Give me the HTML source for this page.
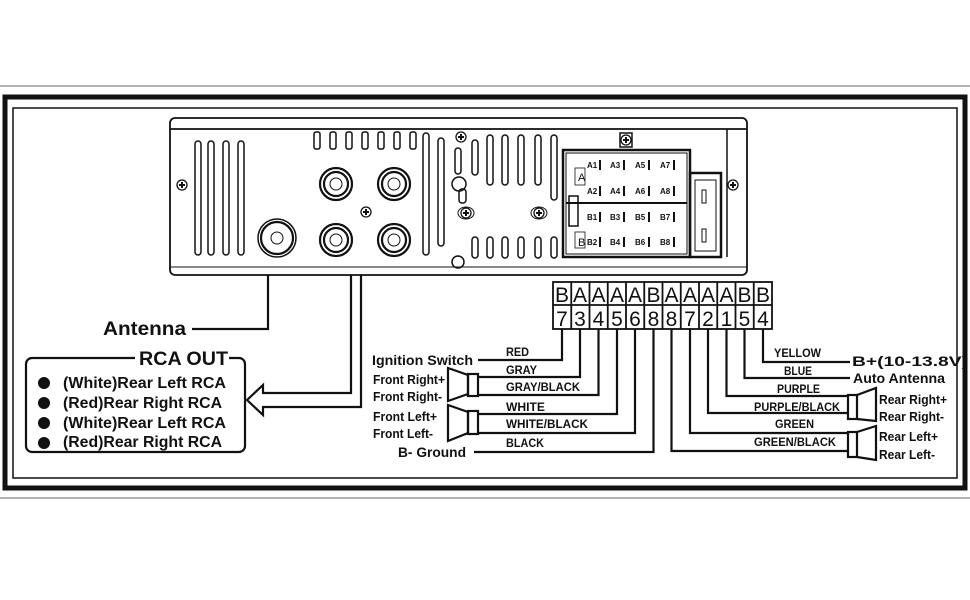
<!DOCTYPE html>
<html><head><meta charset="utf-8"><style>
html,body{margin:0;padding:0;background:#fff}
svg{display:block}
text{font-family:"Liberation Sans",sans-serif;fill:#111}
</style></head><body>
<svg width="970" height="600" viewBox="0 0 970 600" xmlns="http://www.w3.org/2000/svg">
<rect width="970" height="600" fill="#fff"/>
<line x1="0" y1="86" x2="970" y2="86" stroke="#999" stroke-width="1.5"/>
<line x1="0" y1="498" x2="970" y2="498" stroke="#999" stroke-width="1.5"/>
<rect x="5" y="97" width="960" height="391" fill="none" stroke="#111" stroke-width="5"/>
<rect x="13" y="108" width="944" height="370" fill="none" stroke="#111" stroke-width="1.5"/>

<!-- radio -->
<g fill="none" stroke="#111" stroke-width="1.8">
<rect x="170" y="118" width="577" height="157" rx="5"/>
<line x1="170" y1="129" x2="747" y2="129"/>
<line x1="170" y1="267" x2="747" y2="267" stroke-width="1"/>
<g stroke-width="1.5">
<rect x="195" y="141" width="6" height="114" rx="3"/><rect x="208" y="141" width="6" height="114" rx="3"/>
<rect x="223" y="141" width="6" height="114" rx="3"/><rect x="238" y="141" width="6" height="114" rx="3"/>
<rect x="314" y="132" width="6" height="17" rx="2"/><rect x="330" y="132" width="6" height="17" rx="2"/>
<rect x="346" y="132" width="6" height="17" rx="2"/><rect x="362" y="132" width="6" height="17" rx="2"/>
<rect x="378" y="132" width="6" height="17" rx="2"/><rect x="394" y="132" width="6" height="17" rx="2"/>
<rect x="410" y="132" width="6" height="17" rx="2"/>
<rect x="423" y="133" width="6" height="122" rx="3"/><rect x="438" y="138" width="6" height="108" rx="3"/>
<rect x="472" y="140" width="6" height="35" rx="3"/><rect x="487" y="135" width="6" height="50" rx="3"/>
<rect x="502" y="135" width="6" height="50" rx="3"/><rect x="518" y="135" width="6" height="50" rx="3"/>
<rect x="535" y="135" width="6" height="50" rx="3"/><rect x="551" y="135" width="6" height="65" rx="3"/>
<rect x="472" y="237" width="6" height="21" rx="3"/><rect x="487" y="237" width="6" height="21" rx="3"/>
<rect x="502" y="237" width="6" height="21" rx="3"/><rect x="518" y="237" width="6" height="21" rx="3"/>
<rect x="535" y="237" width="6" height="21" rx="3"/><rect x="551" y="237" width="6" height="21" rx="3"/>
<rect x="455" y="148" width="6" height="26" rx="3"/>
<circle cx="459" cy="184" r="7"/>
<rect x="459" y="189" width="7" height="14" rx="3"/>
<circle cx="458" cy="262" r="6"/>
</g>
<g stroke-width="2.2">
<circle cx="336" cy="184" r="16"/><circle cx="336" cy="184" r="12"/>
<circle cx="394" cy="184" r="16"/><circle cx="394" cy="184" r="12"/>
<circle cx="336" cy="240" r="16"/><circle cx="336" cy="240" r="12"/>
<circle cx="394" cy="240" r="16"/><circle cx="394" cy="240" r="12"/>
<circle cx="277" cy="238" r="19" stroke-width="1.5"/><circle cx="277" cy="238" r="16"/>
</g>
<g stroke-width="1">
<circle cx="336" cy="184" r="6"/><circle cx="394" cy="184" r="6"/>
<circle cx="336" cy="240" r="6"/><circle cx="394" cy="240" r="6"/>
<circle cx="277" cy="238" r="6"/>
<ellipse cx="466" cy="213" rx="8" ry="6"/><ellipse cx="539" cy="213" rx="8" ry="6"/>
</g>
<rect x="563" y="150" width="127" height="107" stroke-width="2.5"/>
<rect x="566" y="153" width="121" height="101" stroke-width="1"/>
<line x1="566" y1="203" x2="687" y2="203" stroke-width="2"/>
<rect x="569" y="196" width="9" height="30" stroke-width="1.5"/>
<rect x="575" y="168" width="10" height="17" stroke-width="0.8"/>
<rect x="575" y="232" width="10" height="16" stroke-width="0.8"/>
<rect x="690" y="173" width="31" height="84" stroke-width="2.5"/>
<rect x="695" y="180" width="21" height="71" stroke-width="1"/>
<rect x="702" y="190" width="4" height="13" stroke-width="1"/>
<rect x="702" y="229" width="4" height="13" stroke-width="1"/>
<line x1="727" y1="129" x2="727" y2="257" stroke-width="1.5"/>
<rect x="620" y="133" width="12" height="14" stroke-width="1.5"/>
</g>
<g font-size="8" font-weight="bold">
<text x="578" y="181" font-weight="normal" font-size="11" fill="#888">A</text>
<text x="578" y="246" font-weight="normal" font-size="11" fill="#888">B</text>
<text x="587" y="168">A1</text><text x="610" y="168">A3</text><text x="635" y="168">A5</text><text x="660" y="168">A7</text>
<text x="587" y="194">A2</text><text x="610" y="194">A4</text><text x="635" y="194">A6</text><text x="660" y="194">A8</text>
<text x="587" y="220">B1</text><text x="610" y="220">B3</text><text x="635" y="220">B5</text><text x="660" y="220">B7</text>
<text x="587" y="245">B2</text><text x="610" y="245">B4</text><text x="635" y="245">B6</text><text x="660" y="245">B8</text>
</g>
<g stroke="#111" stroke-width="2">
<line x1="600" y1="160" x2="600" y2="170"/><line x1="624" y1="160" x2="624" y2="170"/><line x1="649" y1="160" x2="649" y2="170"/><line x1="674" y1="160" x2="674" y2="170"/>
<line x1="600" y1="186" x2="600" y2="196"/><line x1="624" y1="186" x2="624" y2="196"/><line x1="649" y1="186" x2="649" y2="196"/><line x1="674" y1="186" x2="674" y2="196"/>
<line x1="600" y1="212" x2="600" y2="222"/><line x1="624" y1="212" x2="624" y2="222"/><line x1="649" y1="212" x2="649" y2="222"/><line x1="674" y1="212" x2="674" y2="222"/>
<line x1="600" y1="237" x2="600" y2="247"/><line x1="624" y1="237" x2="624" y2="247"/><line x1="649" y1="237" x2="649" y2="247"/><line x1="674" y1="237" x2="674" y2="247"/>
</g>
<g fill="none" stroke="#111" stroke-width="1.3">
<circle cx="182" cy="185" r="5"/><circle cx="366" cy="212" r="5"/><circle cx="461" cy="137" r="5"/>
<circle cx="733" cy="185" r="5"/><circle cx="626" cy="140" r="5"/><circle cx="466" cy="213" r="5"/><circle cx="539" cy="213" r="5"/>
</g>
<g stroke="#111" stroke-width="2">
<path d="M179 185h6M182 182v6M363 212h6M366 209v6M458 137h6M461 134v6M730 185h6M733 182v6M623 140h6M626 137v6M463 213h6M466 210v6M536 213h6M539 210v6"/>
</g>

<!-- antenna & rca -->
<g fill="none" stroke="#111" stroke-width="2.2">
<path d="M268 275V329H192"/>
<path d="M351 275V393H263V385L247 400L263 415V407H361V275"/>
<path d="M135 358H32a6 6 0 0 0-6 6v82a6 6 0 0 0 6 6h207a6 6 0 0 0 6-6v-82a6 6 0 0 0-6-6h-10"/>
</g>
<text x="103" y="335" font-size="19" font-weight="bold" textLength="83" lengthAdjust="spacingAndGlyphs">Antenna</text>
<text x="139" y="365" font-size="19" font-weight="bold" textLength="89" lengthAdjust="spacingAndGlyphs">RCA OUT</text>
<g font-size="16" font-weight="bold">
<circle cx="44" cy="383" r="6" fill="#111"/><text x="63" y="388" textLength="163" lengthAdjust="spacingAndGlyphs">(White)Rear Left RCA</text>
<circle cx="44" cy="403" r="6" fill="#111"/><text x="63" y="408" textLength="159" lengthAdjust="spacingAndGlyphs">(Red)Rear Right RCA</text>
<circle cx="44" cy="423" r="6" fill="#111"/><text x="63" y="428" textLength="163" lengthAdjust="spacingAndGlyphs">(White)Rear Left RCA</text>
<circle cx="44" cy="443" r="6" fill="#111"/><text x="63" y="447" textLength="159" lengthAdjust="spacingAndGlyphs">(Red)Rear Right RCA</text>
</g>

<!-- pin table -->
<g fill="none" stroke="#111" stroke-width="1.8">
<rect x="553" y="282" width="219" height="47"/>
<line x1="553" y1="305" x2="772" y2="305"/>
<path d="M571.25 282v47M589.5 282v47M607.75 282v47M626 282v47M644.25 282v47M662.5 282v47M680.75 282v47M699 282v47M717.25 282v47M735.5 282v47M753.75 282v47"/>
</g>
<g font-size="21" text-anchor="middle">
<text x="562" y="302">B</text><text x="580" y="302">A</text><text x="598.5" y="302">A</text><text x="617" y="302">A</text><text x="635" y="302">A</text><text x="653.5" y="302">B</text><text x="671.5" y="302">A</text><text x="690" y="302">A</text><text x="708" y="302">A</text><text x="726.5" y="302">A</text><text x="744.5" y="302">B</text><text x="763" y="302">B</text>
<text x="562" y="326">7</text><text x="580" y="326">3</text><text x="598.5" y="326">4</text><text x="617" y="326">5</text><text x="635" y="326">6</text><text x="653.5" y="326">8</text><text x="671.5" y="326">8</text><text x="690" y="326">7</text><text x="708" y="326">2</text><text x="726.5" y="326">1</text><text x="744.5" y="326">5</text><text x="763" y="326">4</text>
</g>
<g fill="none" stroke="#111" stroke-width="2.2">
<path d="M562 329V360H478"/>
<path d="M580 329V377H478"/>
<path d="M598.5 329V395H478"/>
<path d="M617 329V414H478"/>
<path d="M635 329V433H478"/>
<path d="M653.5 329V452H474"/>
<path d="M671.5 329V451H848"/>
<path d="M690 329V433H848"/>
<path d="M708 329V413H848"/>
<path d="M726.5 329V396H848"/>
<path d="M744.5 329V378H850"/>
<path d="M763 329V362H850"/>
<path d="M448 368L468 375V394L448 401Z"/><rect x="468" y="374" width="10" height="22"/>
<path d="M448 405L468 412V433L448 441Z"/><rect x="468" y="411" width="10" height="23"/>
<rect x="848" y="395" width="9" height="24"/><path d="M857 395L876 388V421L857 419"/>
<rect x="848" y="432" width="9" height="25"/><path d="M857 432L876 426V460L857 457"/>
</g>
<g font-size="12" font-weight="bold">
<text x="506" y="356" textLength="23" lengthAdjust="spacingAndGlyphs">RED</text>
<text x="506" y="374" textLength="31" lengthAdjust="spacingAndGlyphs">GRAY</text>
<text x="506" y="391" textLength="74" lengthAdjust="spacingAndGlyphs">GRAY/BLACK</text>
<text x="506" y="411" textLength="39" lengthAdjust="spacingAndGlyphs">WHITE</text>
<text x="506" y="428" textLength="82" lengthAdjust="spacingAndGlyphs">WHITE/BLACK</text>
<text x="506" y="447" textLength="38" lengthAdjust="spacingAndGlyphs">BLACK</text>
<text x="774" y="357" textLength="47" lengthAdjust="spacingAndGlyphs">YELLOW</text>
<text x="784" y="375" textLength="28" lengthAdjust="spacingAndGlyphs">BLUE</text>
<text x="777" y="393" textLength="43" lengthAdjust="spacingAndGlyphs">PURPLE</text>
<text x="754" y="411" textLength="86" lengthAdjust="spacingAndGlyphs">PURPLE/BLACK</text>
<text x="775" y="428" textLength="39" lengthAdjust="spacingAndGlyphs">GREEN</text>
<text x="754" y="446" textLength="82" lengthAdjust="spacingAndGlyphs">GREEN/BLACK</text>
</g>
<g font-size="13" font-weight="bold">
<text x="372" y="365" font-size="14" textLength="101" lengthAdjust="spacingAndGlyphs">Ignition Switch</text>
<text x="373" y="384" textLength="72" lengthAdjust="spacingAndGlyphs">Front Right+</text>
<text x="373" y="401" textLength="69" lengthAdjust="spacingAndGlyphs">Front Right-</text>
<text x="373" y="421" textLength="64" lengthAdjust="spacingAndGlyphs">Front Left+</text>
<text x="373" y="438" textLength="60" lengthAdjust="spacingAndGlyphs">Front Left-</text>
<text x="398" y="457" font-size="14" textLength="68" lengthAdjust="spacingAndGlyphs">B- Ground</text>
<text x="852" y="366" font-size="14" textLength="116" lengthAdjust="spacingAndGlyphs">B+(10-13.8V)</text>
<text x="853" y="383" font-size="14" textLength="92" lengthAdjust="spacingAndGlyphs">Auto Antenna</text>
<text x="879" y="404" textLength="68" lengthAdjust="spacingAndGlyphs">Rear Right+</text>
<text x="879" y="421" textLength="65" lengthAdjust="spacingAndGlyphs">Rear Right-</text>
<text x="879" y="441" textLength="59" lengthAdjust="spacingAndGlyphs">Rear Left+</text>
<text x="879" y="459" textLength="56" lengthAdjust="spacingAndGlyphs">Rear Left-</text>
</g>
</svg>
</body></html>
